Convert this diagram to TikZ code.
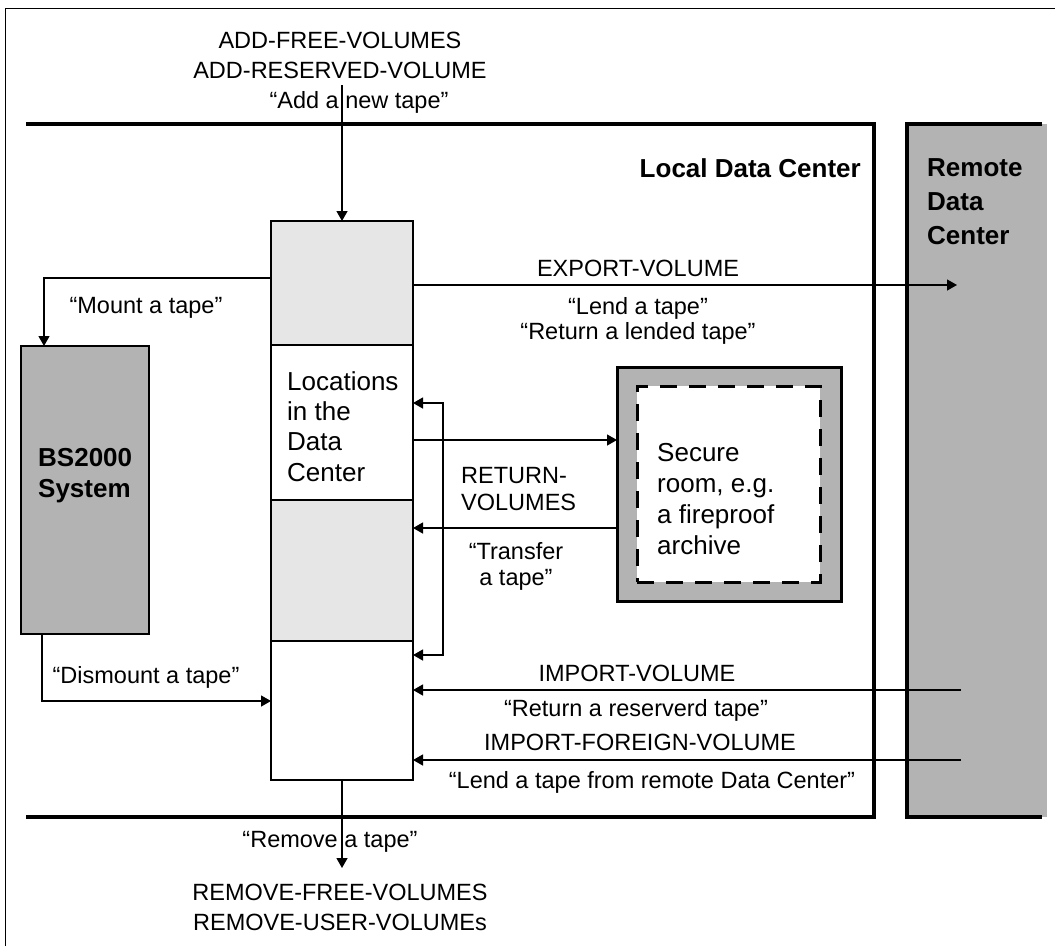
\documentclass[tikz,border=0pt]{standalone}
\usepackage{fontspec}
\setmainfont{Liberation Sans}
\usetikzlibrary{arrows.meta}
\definecolor{boxgray}{HTML}{B3B3B3}
\definecolor{palegray}{HTML}{E6E6E6}
\tikzset{
  lbl/.style={inner sep=0pt, font=\fontsize{23.5}{28}\selectfont},
  big/.style={inner sep=0pt, font=\fontsize{26}{31}\selectfont},
  bigb/.style={inner sep=0pt, font=\fontsize{26}{31}\selectfont\bfseries},
  tip/.tip={Triangle[length=10pt,width=11pt]},
  arr/.style={line width=1.3pt, -tip},
  seg/.style={draw, line width=2.3pt, anchor=north west, minimum width=142pt,
              inner sep=0pt, outer sep=0pt},
  frameline/.style={line width=3.3pt},
}
\begin{document}
\begin{tikzpicture}[x=1pt,y=-1pt]
\useasboundingbox (0,0) rectangle (1055,946);

% page frame
\draw[line width=1pt] (5,946) -- (5,8) -- (1055,8);

% remote data center
\node[fill=boxgray, anchor=north west, minimum width=140pt, minimum height=693pt,
      inner sep=0pt, outer sep=0pt] (remote) at (907,124) {};
\draw[frameline] ([xshift=-5pt]remote.north east) -- (remote.north west)
  -- (remote.south west) -- ([xshift=-5pt]remote.south east);
\node[bigb, anchor=base west] (rem1) at (927,176) {Remote};
\node[bigb, anchor=base west] (rem2) at (927,210) {Data};
\node[bigb, anchor=base west] (rem3) at (927,244) {Center};

% local data center
\draw[frameline] (26,124) -- (874,124) -- (874,817) -- (26,817);
\node[bigb, anchor=base east] (local) at (861,177) {Local Data Center};

% tape location column
\node[seg, fill=palegray, minimum height=124pt] (s1) at (271,221) {};
\node[seg, fill=white,    minimum height=155pt] (s2) at (271,345) {};
\node[seg, fill=palegray, minimum height=141pt] (s3) at (271,500) {};
\node[seg, fill=white,    minimum height=139pt] (s4) at (271,641) {};
\node[big, anchor=base west] (loc1) at (287,390) {Locations};
\node[big, anchor=base west] (loc2) at (287,420) {in the};
\node[big, anchor=base west] (loc3) at (287,450) {Data};
\node[big, anchor=base west] (loc4) at (287,481) {Center};

% BS2000 system
\node[draw, fill=boxgray, line width=2.3pt, anchor=north west, minimum width=128pt,
      minimum height=288pt, inner sep=0pt, outer sep=0pt] (bs) at (21,346) {};
\node[bigb, anchor=base west] (bs1) at (38,466) {BS2000};
\node[bigb, anchor=base west] (bs2) at (38,497) {System};

% secure room
\node[draw, fill=boxgray, line width=3pt, anchor=north west, minimum width=224pt,
      minimum height=234pt, inner sep=0pt, outer sep=0pt] (sec) at (617,367) {};
\node[draw, fill=white, line width=3pt, dash pattern=on 17pt off 12pt,
      anchor=north west, minimum width=183pt, minimum height=196pt,
      inner sep=0pt, outer sep=0pt] (secin) at (637,386) {};
\node[big, anchor=base west] (sc1) at (657,461) {Secure};
\node[big, anchor=base west] (sc2) at (657,492) {room, e.g.};
\node[big, anchor=base west] (sc3) at (657,523) {a fireproof};
\node[big, anchor=base west] (sc4) at (657,554) {archive};

% add a new tape
\node[lbl, anchor=base] (add1) at (340,48.5) {ADD-FREE-VOLUMES};
\node[lbl, anchor=base] (add2) at (340,78.5) {ADD-RESERVED-VOLUME};
\node[lbl, anchor=base] (add3) at (359,108) {“Add a new tape”};
\coordinate (addtop) at (342,85);
\draw[arr] (addtop) -- (addtop |- s1.north);

% mount / dismount
\draw[arr] (s1.west |- 0,278) -| ([xshift=23pt]bs.north west);
\node[lbl, anchor=base] (mount) at (146,313) {“Mount a tape”};
\draw[arr] ([xshift=21pt]bs.south west) |- (s4.west |- 0,701);
\node[lbl, anchor=base] (dismount) at (146,683) {“Dismount a tape”};

% export
\coordinate (exptip) at (957,285);
\draw[arr] (s1.east |- exptip) -- (exptip);
\node[lbl, anchor=base] (exp1) at (638,276.5) {EXPORT-VOLUME};
\node[lbl, anchor=base] (exp2) at (638,314) {“Lend a tape”};
\node[lbl, anchor=base] (exp3) at (638,339) {“Return a lended tape”};

% secure room transfer
\draw[arr] (s2.east |- 0,440) -- (sec.west |- 0,440);
\draw[arr] (sec.west |- 0,528) -- (s3.east |- 0,528);
\draw[line width=1.3pt, tip-tip] (s2.east |- 0,403) -- (443,403) -- (443,655)
  -- (s4.east |- 0,655);
\node[lbl, anchor=base west] (ret1) at (461,483.5) {RETURN-};
\node[lbl, anchor=base west] (ret2) at (461,510) {VOLUMES};
\node[lbl, anchor=base] (tr1) at (516,559) {“Transfer};
\node[lbl, anchor=base] (tr2) at (516,585) {a tape”};

% import
\coordinate (imp1) at (961,690);
\coordinate (imp2) at (961,760);
\draw[arr] (imp1) -- (s4.east |- imp1);
\draw[arr] (imp2) -- (s4.east |- imp2);
\node[lbl, anchor=base] (impl1) at (637,681) {IMPORT-VOLUME};
\node[lbl, anchor=base] (impl2) at (636,716) {“Return a reserverd tape”};
\node[lbl, anchor=base] (impl3) at (640,750) {IMPORT-FOREIGN-VOLUME};
\node[lbl, anchor=base] (impl4) at (652,788) {“Lend a tape from remote Data Center”};

% remove
\draw[arr] (s4.south) -- ++(0,88);
\node[lbl, anchor=base] (rm1) at (330,847) {“Remove a tape”};
\node[lbl, anchor=base] (rm2) at (340,900) {REMOVE-FREE-VOLUMES};
\node[lbl, anchor=base] (rm3) at (340,930) {REMOVE-USER-VOLUMEs};
\end{tikzpicture}
\end{document}
